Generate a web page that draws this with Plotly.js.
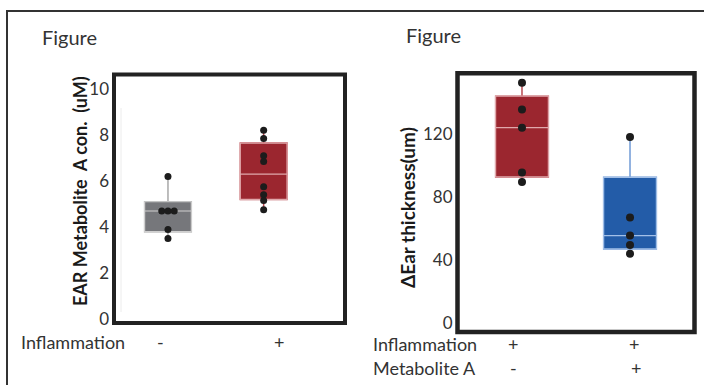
<!DOCTYPE html>
<html>
<head>
<meta charset="utf-8">
<script src="https://cdn.plot.ly/plotly-3.0.1.min.js"></script>
<style>
html,body{margin:0;padding:0;background:#fff;}
#chart{width:704px;height:385px;}
</style>
</head>
<body>
<div id="chart"></div>
<script>
// ---------- DATA ----------
// Left panel: EAR Metabolite A concentration (uM)
var leftGroups = ['Inflammation -', 'Inflammation +'];
var leftInflammation = ['-', '+'];
var leftGrayPoints = [6.2, 4.7, 4.7, 4.7, 3.9, 3.5];
var leftRedPoints = [8.2, 7.85, 7.1, 6.85, 5.75, 5.4, 5.15, 4.75];
var leftQ1 = [3.8, 5.2];
var leftMedian = [4.7, 6.3];
var leftQ3 = [5.1, 7.65];
var leftLower = [3.5, 4.75];
var leftUpper = [6.2, 8.2];
var leftTicks = [0, 2, 4, 6, 8, 10];

// Right panel: ΔEar thickness (um)
var rightGroups = ['Inflammation + / Metabolite A -', 'Inflammation + / Metabolite A +'];
var rightInflammation = ['+', '+'];
var rightMetabolite = ['-', '+'];
var rightRedPoints = [152.5, 135.5, 124, 95.5, 89.5];
var rightBluePoints = [118, 67, 55.5, 49.5, 44];
var rightQ1 = [92.7, 47];
var rightMedian = [124, 55.5];
var rightQ3 = [144, 92.5];
var rightLower = [89.5, 44];
var rightUpper = [152.5, 118];
var rightTicks = [0, 40, 80, 120];

// ---------- HELPERS ----------
var W = 704, H = 385;
function px(x){ return x / W; }
function py(y){ return 1 - y / H; }

// simple swarm: spread identical values sideways
function swarm(vals, center, spacing){
  var counts = {}, seen = {};
  vals.forEach(function(v){ counts[v] = (counts[v]||0) + 1; });
  return vals.map(function(v){
    var n = counts[v]; var i = seen[v] || 0; seen[v] = i + 1;
    return center + (i - (n - 1) / 2) * spacing;
  });
}

var font = 'Lato, "Open Sans", sans-serif';
var dotColor = '#1c1c1c';

// whisker layer (full range) then box layer on top (q1..q3 only)
function boxTraces(i, q1, med, q3, lo, hi, fill, outline, whisker, xa, ya){
  var common = {type: 'box', x: [i], q1: [q1[i]], median: [med[i]], q3: [q3[i]],
    width: 0.488, whiskerwidth: 0, boxpoints: false, hoverinfo: 'skip',
    showlegend: false, xaxis: xa, yaxis: ya, fillcolor: fill};
  var w = Object.assign({}, common, {lowerfence: [lo[i]], upperfence: [hi[i]],
    line: {color: whisker, width: 1.5}});
  var b = Object.assign({}, common, {lowerfence: [q1[i]], upperfence: [q3[i]],
    line: {color: outline, width: 1.2}});
  return [w, b];
}
function dotTrace(vals, i, spacing, size, xa, ya){
  return {
    type: 'scatter', mode: 'markers',
    x: swarm(vals, i, spacing), y: vals,
    marker: {color: dotColor, size: size},
    hoverinfo: 'skip', showlegend: false, xaxis: xa, yaxis: ya
  };
}

var data = [].concat(
  boxTraces(0, leftQ1, leftMedian, leftQ3, leftLower, leftUpper, '#76777b', '#cfcfcf', '#a8a8a8', 'x', 'y'),
  boxTraces(1, leftQ1, leftMedian, leftQ3, leftLower, leftUpper, '#9b262f', '#e0a8ac', '#b8474f', 'x', 'y'),
  [dotTrace(leftGrayPoints, 0, 0.065, 7, 'x', 'y'),
   dotTrace(leftRedPoints, 1, 0.065, 7, 'x', 'y')],
  boxTraces(0, rightQ1, rightMedian, rightQ3, rightLower, rightUpper, '#9b262f', '#e0a8ac', '#b8474f', 'x2', 'y2'),
  boxTraces(1, rightQ1, rightMedian, rightQ3, rightLower, rightUpper, '#235ca8', '#a3c0e8', '#6f9ad6', 'x2', 'y2'),
  [dotTrace(rightRedPoints, 0, 0.06, 8, 'x2', 'y2'),
   dotTrace(rightBluePoints, 1, 0.06, 8, 'x2', 'y2')]
);

var tickFont = {family: font, size: 17, color: '#333'};
function yaxis(domain, range, ticks, anchor){
  return {domain: domain, range: range, tickvals: ticks, ticks: '', anchor: anchor,
    showgrid: false, zeroline: false, showline: false, tickfont: tickFont,
    fixedrange: true, ticklabelstandoff: 4};
}
function xaxis(domain, range, anchor){
  return {domain: domain, range: range, showticklabels: false, ticks: '',
    showgrid: false, zeroline: false, showline: false, fixedrange: true, anchor: anchor};
}

var textColor = '#333';
var annotations = [];
function ann(text, x, y, xanchor, size, bold, angle){
  annotations.push({
    text: bold ? '<b>' + text + '</b>' : text,
    xref: 'paper', yref: 'paper', x: px(x), y: py(y),
    xanchor: xanchor, yanchor: 'middle', showarrow: false,
    textangle: angle || 0,
    font: {family: font, size: size, color: bold ? '#1a1a1a' : textColor}
  });
}
ann('Figure', 40, 37, 'left', 20);
ann('Figure', 404, 35, 'left', 20);
ann('EAR Metabolite\u00a0\u00a0A con.\u00a0\u00a0(uM)', 80, 191, 'center', 18, true, -90);
ann('\u0394Ear thickness(um)', 408, 208, 'center', 19, true, -90);
ann('Inflammation', 19, 342, 'left', 18);
ann(leftInflammation[0], 160, 342, 'center', 18);
ann(leftInflammation[1], 279, 342, 'center', 18);
ann('Inflammation', 371, 344, 'left', 18);
ann('Metabolite A', 371, 368, 'left', 18);
ann(rightInflammation[0], 513, 344, 'center', 18);
ann(rightInflammation[1], 634, 344, 'center', 18);
ann(rightMetabolite[0], 513, 368, 'center', 18);
ann(rightMetabolite[1], 636, 368, 'center', 18);

var shapes = [
  // outer frame (top and left)
  {type: 'line', xref: 'paper', yref: 'paper', x0: px(6), x1: px(704), y0: py(11), y1: py(11), line: {color: '#333', width: 2}},
  {type: 'line', xref: 'paper', yref: 'paper', x0: px(7), x1: px(7), y0: py(10), y1: py(385), line: {color: '#333', width: 2}},
  // faint axis line in left panel
  {type: 'line', xref: 'paper', yref: 'paper', x0: px(121), x1: px(121), y0: py(108), y1: py(312), line: {color: '#ececec', width: 1}},
  // thick plot borders
  {type: 'rect', xref: 'paper', yref: 'paper', x0: px(114), x1: px(345), y0: py(323), y1: py(74.5), line: {color: '#222', width: 4}},
  {type: 'rect', xref: 'paper', yref: 'paper', x0: px(457.5), x1: px(694.5), y0: py(332), y1: py(73.3), line: {color: '#222', width: 4.5}}
];

var layout = {
  width: W, height: H,
  margin: {l: 0, r: 0, t: 0, b: 0, pad: 0},
  paper_bgcolor: '#fff', plot_bgcolor: '#fff',
  showlegend: false,
  xaxis: xaxis([px(114), px(345)], [-0.564, 1.850], 'y'),
  yaxis: yaxis([py(323), py(74.5)], [-0.164, 10.626], leftTicks, 'x'),
  xaxis2: xaxis([px(457.5), px(694.5)], [-0.597, 1.597], 'y2'),
  yaxis2: yaxis([py(332), py(73.3)], [-5.71, 158.5], rightTicks, 'x2'),
  annotations: annotations,
  shapes: shapes
};

Plotly.newPlot('chart', data, layout, {displayModeBar: false, staticPlot: true});
</script>
</body>
</html>
